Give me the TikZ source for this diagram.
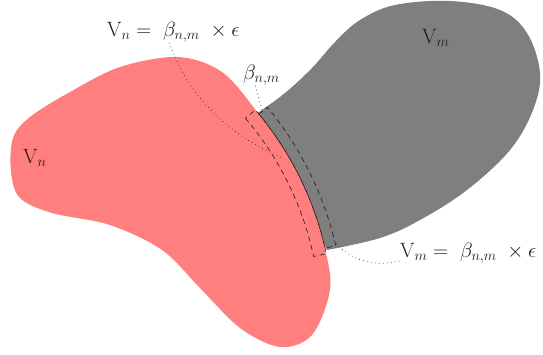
\documentclass[tikz,border=0pt]{standalone}
\usepackage{tikz}
\usetikzlibrary{calc}
\definecolor{vnred}{HTML}{FF7F7F}
\definecolor{vmgray}{HTML}{7F7F7F}
\definecolor{ink}{HTML}{1A1A1A}

\begin{document}
\begin{tikzpicture}[x=1pt, y=-1pt,
  lbl/.style={font=\fontsize{20.5}{24}\selectfont, text=ink, inner sep=1pt},
  band/.style={draw=ink, line width=0.6pt, dash pattern=on 5pt off 4pt},
  leader/.style={draw=ink, line width=0.9pt, line cap=round, dash pattern=on 0pt off 4pt}]
  \useasboundingbox (0,0) rectangle (543,354);
  \def\rin{313}
  \def\rmid{326}
  \def\rout{337}
  \coordinate (ctr) at (7.4,321.5);
  \coordinate (tip) at ($(ctr)+(-39.8:\rmid)$);

  % V_m region
  \fill[vmgray] (tip) -- plot[smooth, tension=0.6] coordinates {(tip) (285,93) (312,68) (335,42)
    (360,20) (395,5) (450,1) (500,10) (527,33) (540,73) (533,110) (510,150) (467,190)
    (420,220) (380,238) (327,250)} -- cycle;

  % V_n region
  \fill[vnred] plot[smooth cycle, tension=0.55] coordinates {(11,172) (13,138) (30,117)
    (70,92) (120,67) (178,57) (222,72) (tip) (289.7,158.5) (311.8,204.7) (325,248.2)
    (330,290) (312,335) (280,347) (240,328) (200,288) (162,250) (110,225) (52,213) (20,198)};

  % the two strips along the border
  \draw[band] ($(ctr)+(-40.5:\rin)$) arc[start angle=-40.5, end angle=-12, radius=\rin]
    -- ($(ctr)+(-12:\rmid)$) arc[start angle=-12, end angle=-40.5, radius=\rmid] -- cycle;
  \draw[band] ($(ctr)+(-39.5:\rmid)$) arc[start angle=-39.5, end angle=-13, radius=\rmid]
    -- ($(ctr)+(-13:\rout)$) arc[start angle=-13, end angle=-39.5, radius=\rout] -- cycle;

  \coordinate (instrip) at ($(ctr)+(-31:319)$);
  \coordinate (border) at ($(ctr)+(-39.3:\rmid+4)$);
  \coordinate (outstrip) at ($(ctr)+(-13.5:\rout)$);

  % labels
  \node[lbl, anchor=base west] (vnin) at (22,163) {$\mathrm{V}_n$};
  \node[lbl, anchor=base west] (vmin) at (421,43) {$\mathrm{V}_m$};
  \node[lbl, anchor=base west] (vneq) at (106,36) {$\mathrm{V}_n = \ \beta_{n,m}\ \times \epsilon$};
  \node[lbl, anchor=base west] (beta) at (242,79) {$\beta_{n,m}$};
  \node[lbl, anchor=base west] (vmeq) at (399,257) {$\mathrm{V}_m = \ \beta_{n,m}\ \times \epsilon$};

  % leaders
  \draw[leader] ([xshift=-4pt]vneq.south) .. controls (190,100) and (230,135) .. (instrip);
  \draw[leader] ([xshift=-6pt]beta.south) -- (border);
  \draw[leader] ([yshift=3pt]vmeq.south west) .. controls (370,268) and (350,258) .. (outstrip);
\end{tikzpicture}
\end{document}
